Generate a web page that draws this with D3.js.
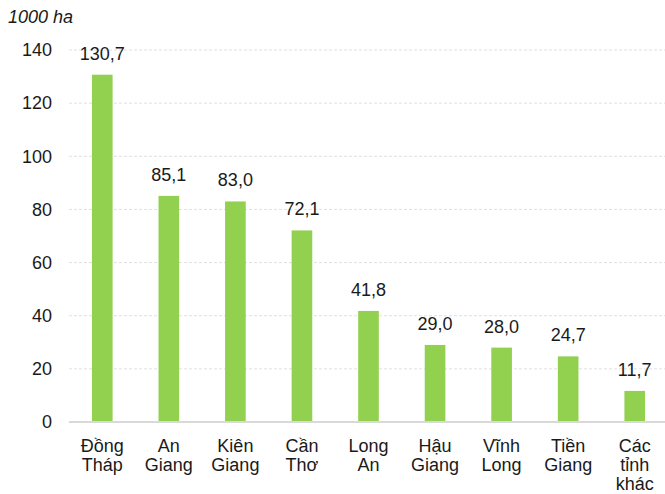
<!DOCTYPE html>
<html>
<head>
<meta charset="utf-8">
<script src="https://cdn.jsdelivr.net/npm/d3@7"></script>
<style>
  body { margin: 0; background: #fff; }
  text { font-family: "Liberation Sans", Arial, sans-serif; fill: #1a1a1a; }
</style>
</head>
<body>
<div id="chart"></div>
<script>
// data
const provinces = [["Đồng", "Tháp"], ["An", "Giang"], ["Kiên", "Giang"], ["Cần", "Thơ"], ["Long", "An"],
  ["Hậu", "Giang"], ["Vĩnh", "Long"], ["Tiền", "Giang"], ["Các", "tỉnh", "khác"]];
const areas = [130.7, 85.1, 83.0, 72.1, 41.8, 29.0, 28.0, 24.7, 11.7];
const yTicks = [0, 20, 40, 60, 80, 100, 120, 140];

const svgWidth = 665, svgHeight = 494;
const margin = { top: 50, right: -3, bottom: 72, left: 69 };
const width = svgWidth - margin.left - margin.right;
const height = svgHeight - margin.top - margin.bottom;

const svg = d3.select("#chart").append("svg")
  .attr("width", svgWidth)
  .attr("height", svgHeight);

const chart = svg.append("g")
  .attr("transform", `translate(${margin.left},${margin.top})`);

const x = d3.scaleBand()
  .domain(d3.range(areas.length))
  .range([0, width])
  .paddingInner(0.69)
  .paddingOuter(0.345);

const y = d3.scaleLinear()
  .domain([0, 140])
  .range([height, 0]);

// gridlines
chart.selectAll(".grid")
  .data(yTicks.slice(1))
  .join("line")
  .attr("x1", 0)
  .attr("x2", width)
  .attr("y1", d => y(d))
  .attr("y2", d => y(d))
  .attr("stroke", "#e0e0e0")
  .attr("stroke-width", 1)
  .attr("stroke-dasharray", "3,2");

// y axis labels
chart.append("g")
  .attr("class", "axis-y")
  .call(d3.axisLeft(y).tickValues(yTicks).tickSize(0).tickPadding(17))
  .call(g => g.select(".domain").remove())
  .selectAll("text")
  .attr("font-size", 18)
  .style("font-family", "Liberation Sans, Arial, sans-serif")
  .attr("fill", "#1a1a1a");

// bars
chart.selectAll(".bar")
  .data(areas)
  .join("rect")
  .attr("x", (d, i) => x(i))
  .attr("y", d => y(d))
  .attr("width", x.bandwidth())
  .attr("height", d => height - y(d))
  .attr("fill", "#92d050");

// x axis line
chart.append("line")
  .attr("x1", 0)
  .attr("x2", width)
  .attr("y1", height)
  .attr("y2", height)
  .attr("stroke", "#d9d9d9")
  .attr("stroke-width", 2);

// value labels
chart.selectAll(".val")
  .data(areas)
  .join("text")
  .attr("x", (d, i) => x(i) + x.bandwidth() / 2)
  .attr("y", d => y(d) - 15)
  .attr("text-anchor", "middle")
  .attr("font-size", 18)
  .text(d => d.toFixed(1).replace(".", ","));

// category labels
const cats = chart.selectAll(".cat")
  .data(provinces)
  .join("text")
  .attr("x", (d, i) => x(i) + x.bandwidth() / 2)
  .attr("y", height + 30)
  .attr("text-anchor", "middle")
  .attr("font-size", 18);

cats.selectAll("tspan")
  .data(d => d)
  .join("tspan")
  .attr("x", function() { return d3.select(this.parentNode).attr("x"); })
  .attr("dy", (d, i) => i === 0 ? 0 : 19)
  .text(d => d);

// unit label
svg.append("text")
  .attr("x", 8)
  .attr("y", 23)
  .attr("font-size", 18)
  .attr("font-style", "italic")
  .text("1000 ha");
</script>
</body>
</html>
